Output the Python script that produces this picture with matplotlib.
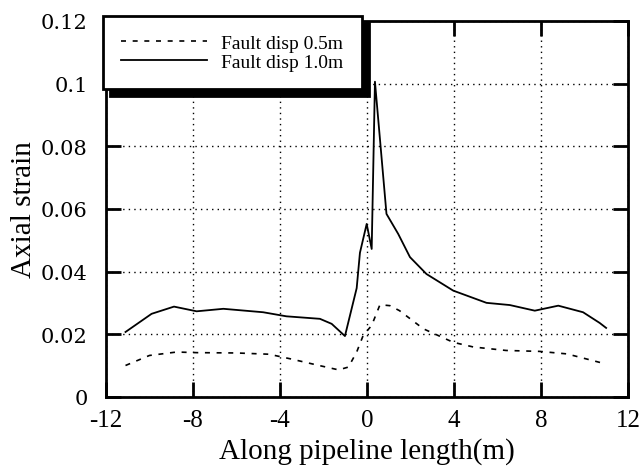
import numpy as np
import matplotlib
matplotlib.use("Agg")
import matplotlib.pyplot as plt

plt.rcParams['font.family'] = ['Liberation Serif', 'DejaVu Serif']
plt.rcParams['axes.unicode_minus'] = False

# Fault displacement 0.5 m (dashed)
x_05 = [-11.1, -10.0, -8.75, -7.8, -6.0, -4.5, -3.5, -2.2, -1.3, -0.85, -0.47, -0.17,
        0.22, 0.6, 1.06, 1.5, 2.6, 3.97, 4.9, 6.4, 7.95, 9.2, 10.7, 11.0]
y_05 = [0.0100, 0.0132, 0.0143, 0.0141, 0.0140, 0.0136, 0.0121, 0.0100, 0.0086, 0.0095,
        0.0143, 0.0196, 0.0228, 0.0294, 0.0291, 0.0275, 0.0217, 0.0174, 0.0159, 0.0148,
        0.0145, 0.0137, 0.0110, 0.0105]

# Fault displacement 1.0 m (solid)
x_10 = [-11.1, -9.9, -8.87, -7.83, -6.6, -4.77, -3.7, -2.16, -1.62, -1.01, -0.47, -0.32,
        -0.01, 0.22, 0.37, 0.9, 1.44, 1.98, 2.74, 3.97, 5.5, 6.57, 7.72, 8.8, 9.94, 10.7, 11.0]
y_10 = [0.0207, 0.0265, 0.0288, 0.0273, 0.0281, 0.0270, 0.0257, 0.0249, 0.0233, 0.0194,
        0.0347, 0.0460, 0.0552, 0.0472, 0.1006, 0.0584, 0.0520, 0.0446, 0.0392, 0.0339,
        0.0300, 0.0293, 0.0275, 0.0291, 0.0270, 0.0236, 0.0220]

xticks = [-12, -8, -4, 0, 4, 8, 12]
yticks = [0, 0.02, 0.04, 0.06, 0.08, 0.1, 0.12]
ytick_labels = ['0', '0.02', '0.04', '0.06', '0.08', '0.1', '0.12']

fig = plt.figure(figsize=(6.42, 4.77), dpi=100)
ax = fig.add_axes([0.165, 0.166, 0.813, 0.788])

ax.plot(x_05, y_05, color='k', lw=1.2, linestyle=(0, (3, 4)), label='Fault disp 0.5m')
ax.plot(x_10, y_10, color='k', lw=1.3, label='Fault disp 1.0m')

ax.set_xlim(-12, 12)
ax.set_ylim(0, 0.12)
ax.set_xticks(xticks)
ax.set_xticklabels([str(t) for t in xticks], fontsize=18)
ax.set_yticks(yticks)
ax.set_yticklabels(ytick_labels, fontsize=15, family='DejaVu Serif')
ax.grid(True, color='k', linestyle=(0, (1, 3)), lw=1.0)
ax.tick_params(direction='in', length=11, width=2, top=True, right=True, colors='k')
ax.tick_params(axis='x', pad=9)
ax.tick_params(axis='y', pad=13)
for s in ax.spines.values():
    s.set_linewidth(2)

ax.set_xlabel('Along pipeline length(m)', fontsize=21, labelpad=4)
ax.set_ylabel('Axial strain', fontsize=21, labelpad=3)

leg = ax.legend(loc='upper left', bbox_to_anchor=(-0.006, 1.013), borderaxespad=0,
                fontsize=14, frameon=True, fancybox=False, handlelength=4.4,
                handletextpad=0.75, borderpad=0.95, labelspacing=0.05,
                shadow={'ox': 5, 'oy': -5, 'color': 'k', 'alpha': 1})
leg.get_frame().set_edgecolor('k')
leg.get_frame().set_linewidth(2)
leg.get_frame().set_alpha(1)
leg.set_zorder(10)

fig.savefig('out.png', dpi=100)
